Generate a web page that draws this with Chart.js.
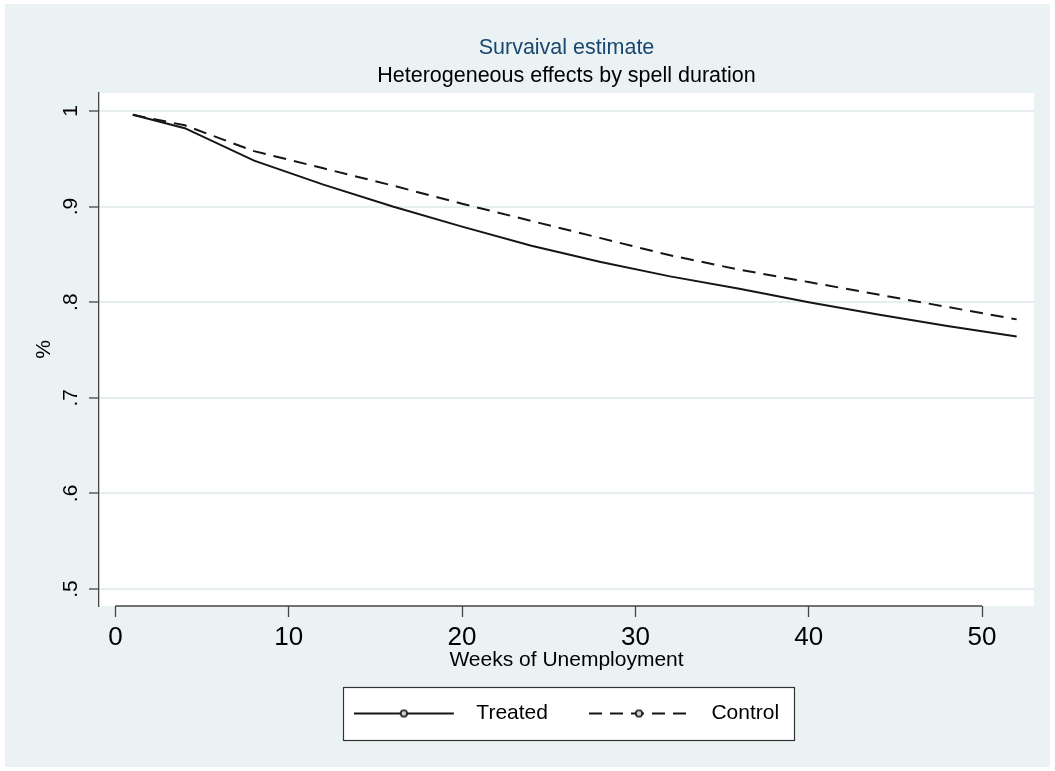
<!DOCTYPE html>
<html>
<head>
<meta charset="utf-8">
<script src="https://cdn.jsdelivr.net/npm/chart.js@4.4.1/dist/chart.umd.min.js"></script>
<style>
html,body{margin:0;padding:0;background:#ffffff;}
canvas{display:block;}
</style>
</head>
<body>
<canvas id="c" width="1055" height="771"></canvas>
<script>
// ---- data ----
const weeks   = [1, 4, 8, 12, 16, 20, 24, 28, 32, 36, 40, 44, 48, 52];
const treated = [0.996, 0.982, 0.948, 0.923, 0.900, 0.879, 0.859, 0.842, 0.827, 0.814, 0.800, 0.787, 0.775, 0.764];
const control = [0.996, 0.985, 0.958, 0.940, 0.922, 0.903, 0.885, 0.867, 0.849, 0.834, 0.821, 0.808, 0.795, 0.782];
const seriesNames = ['Treated', 'Control'];
const xTickValues = [0, 10, 20, 30, 40, 50];
const yTickValues = [0.5, 0.6, 0.7, 0.8, 0.9, 1];
const yTickLabels = ['.5', '.6', '.7', '.8', '.9', '1'];
const titleText = 'Survaival estimate';
const subtitleText = 'Heterogeneous effects by spell duration';
const xTitleText = 'Weeks of Unemployment';
const yTitleText = '%';

// ---- style ----
const FONT = "'Liberation Sans', Arial, Helvetica, sans-serif";
const LINE = '#151515';
const AXIS = '#444444';
const BG = '#EAF2F3';
const GRID = '#E6EEF0';
const DASH = [13, 8];

Chart.defaults.font.family = FONT;

function legendSwatch(dash) {
  const c = document.createElement('canvas');
  c.width = 112; c.height = 14;
  const g = c.getContext('2d');
  g.strokeStyle = LINE; g.lineWidth = 2; g.setLineDash(dash);
  g.beginPath(); g.moveTo(0, 7); g.lineTo(100, 7); g.stroke();
  g.setLineDash([]);
  g.beginPath(); g.arc(50, 7, 3.2, 0, Math.PI * 2);
  g.fillStyle = '#d0d0d0'; g.fill();
  g.lineWidth = 1.6; g.strokeStyle = LINE; g.stroke();
  return c;
}
const swatches = [legendSwatch([]), legendSwatch(DASH)];

const decor = {
  id: 'decor',
  beforeDraw(chart) {
    const {ctx, chartArea: a, width, height} = chart;
    ctx.save();
    ctx.fillStyle = '#ffffff'; ctx.fillRect(0, 0, width, height);
    ctx.fillStyle = BG; ctx.fillRect(5, 4, width - 10, height - 8);
    ctx.fillStyle = '#ffffff'; ctx.fillRect(a.left, a.top, a.right - a.left, a.bottom - a.top);
    const hb = chart.legend && chart.legend.legendHitBoxes;
    if (hb && hb.length) {
      const f = hb[0], l = hb[hb.length - 1];
      const cy = f.top + f.height / 2;
      const x0 = f.left - 11, x1 = l.left + l.width + 15;
      ctx.fillStyle = '#ffffff';
      ctx.fillRect(x0, cy - 26.5, x1 - x0, 53);
      ctx.strokeStyle = '#333333'; ctx.lineWidth = 1.2;
      ctx.strokeRect(Math.round(x0) + 0.5, Math.round(cy - 26.5) + 0.5, Math.round(x1 - x0), 53);
    }
    ctx.restore();
  },
  afterDraw(chart) {
    const {ctx, chartArea: a} = chart;
    const xs = chart.scales.x;
    ctx.save();
    ctx.strokeStyle = AXIS; ctx.lineWidth = 1.3;
    ctx.beginPath();
    ctx.moveTo(xs.getPixelForValue(xTickValues[0]), a.bottom);
    ctx.lineTo(xs.getPixelForValue(xTickValues[xTickValues.length - 1]), a.bottom);
    ctx.stroke();
    ctx.restore();
  }
};

new Chart(document.getElementById('c'), {
  type: 'line',
  data: {
    datasets: [
      {
        label: seriesNames[0],
        data: weeks.map((w, i) => ({x: w, y: treated[i]})),
        borderColor: LINE, backgroundColor: LINE, borderWidth: 2,
        pointRadius: 0, tension: 0, fill: false
      },
      {
        label: seriesNames[1],
        data: weeks.map((w, i) => ({x: w, y: control[i]})),
        borderColor: LINE, backgroundColor: LINE, borderWidth: 2, borderDash: DASH,
        pointRadius: 0, tension: 0, fill: false
      }
    ]
  },
  options: {
    responsive: false,
    animation: false,
    devicePixelRatio: 1,
    layout: {padding: {top: 20, left: 20, right: 21, bottom: 37}},
    scales: {
      x: {
        type: 'linear', min: -0.95, max: 53,
        afterBuildTicks: s => { s.ticks = xTickValues.map(v => ({value: v})); },
        afterFit: s => { s.height = 56; },
        ticks: {font: {size: 26, lineHeight: 1.2}, color: '#000', padding: 5, maxRotation: 0, autoSkip: false,
                callback: v => String(v)},
        grid: {drawOnChartArea: false, drawTicks: true, tickLength: 11, tickColor: AXIS, tickWidth: 1.3, color: 'rgba(0,0,0,0)'},
        border: {display: false},
        title: {display: true, text: xTitleText, color: '#000', font: {size: 21, lineHeight: 1.2}, padding: {top: 0, bottom: -10.6}}
      },
      y: {
        type: 'linear', min: 0.4822, max: 1.0188,
        afterBuildTicks: s => { s.ticks = yTickValues.map(v => ({value: v})); },
        afterFit: s => { s.width = 79; },
        ticks: {font: {size: 21}, color: '#000', padding: 9, minRotation: 90, maxRotation: 90, crossAlign: 'center',
                autoSkip: false, callback: v => yTickLabels[yTickValues.indexOf(v)]},
        grid: {color: GRID, lineWidth: 2, drawTicks: true, tickLength: 10, tickColor: AXIS, tickWidth: 1.3},
        border: {display: true, color: AXIS, width: 1.3},
        title: {display: true, text: yTitleText, color: '#000', font: {size: 21, lineHeight: 1.2}, padding: {top: 12, bottom: 0}}
      }
    },
    plugins: {
      title: {display: true, text: titleText, color: '#1a476f', fullSize: false,
              font: {size: 21.5, weight: 'normal', lineHeight: 1}, padding: {top: 17, bottom: 0}},
      subtitle: {display: true, text: subtitleText, color: '#000', fullSize: false,
                 font: {size: 21.5, weight: 'normal', lineHeight: 1}, padding: {top: 7, bottom: 6}},
      legend: {
        display: true, position: 'bottom', fullSize: false,
        labels: {
          usePointStyle: true, pointStyleWidth: 112, boxHeight: 14, padding: 41,
          color: '#000', font: {size: 21},
          generateLabels: chart => Chart.defaults.plugins.legend.labels.generateLabels(chart).map((it, i) => {
            it.pointStyle = swatches[i];
            return it;
          })
        }
      },
      tooltip: {enabled: false}
    }
  },
  plugins: [decor]
});
</script>
</body>
</html>
